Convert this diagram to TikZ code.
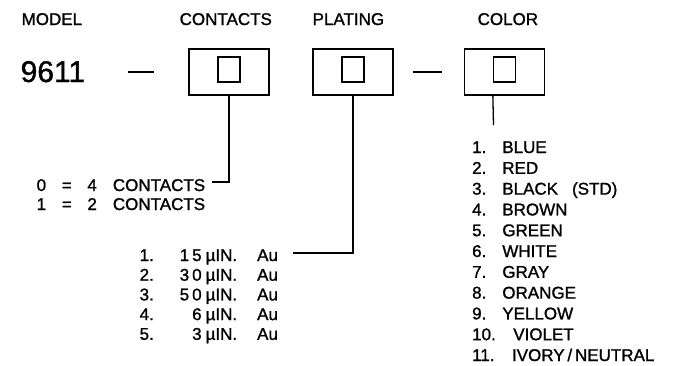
\documentclass[tikz,border=0pt]{standalone}
\usepackage{fontspec}
\setmainfont{Liberation Sans}
\newfontfamily\cadfont{Liberation Sans}[FakeBold=1.2]
\begin{document}
\begin{tikzpicture}[x=1pt,y=-1pt,line width=1.3pt,
  txt/.style={anchor=base west,inner sep=0pt,font=\fontsize{17}{20}\selectfont\cadfont},
  big/.style={anchor=base west,inner sep=0pt,font=\fontsize{30}{34}\selectfont\cadfont},
  outerbox/.style={draw,minimum width=80pt,minimum height=46pt,inner sep=0pt},
  innerbox/.style={draw,minimum width=22pt,minimum height=25pt,inner sep=0pt}]
\useasboundingbox (0,0) rectangle (684,365);
% headings
\node[txt] (hmodel) at (21,25) {MODEL};
\node[txt] (hcont) at (179,25) {CONTACTS};
\node[txt] (hplat) at (312,25) {PLATING};
\node[txt] (hcol) at (477,25) {COLOR};
\node[big] (model) at (20,82) {9611};
% dashes
\coordinate (d1a) at (128,72); \coordinate (d1b) at (154,72);
\coordinate (d2a) at (413,72); \coordinate (d2b) at (442,72);
\draw (d1a) -- (d1b);
\draw (d2a) -- (d2b);
% boxes
\node[outerbox] (cbox) at (229,72) {};
\node[innerbox] (cin) at (229,69.5) {};
\node[outerbox] (pbox) at (353,72) {};
\node[innerbox] (pin) at (353,69.5) {};
\node[outerbox] (kbox) at (504.5,72) {};
\node[innerbox] (kin) at (504.5,69.5) {};
% contacts list
\node[txt] (c0) at (36,191) {0\hspace{15.7pt}=\hspace{15.7pt}4\hspace{16pt}CONTACTS};
\node[txt] (c1) at (36,210) {1\hspace{15.7pt}=\hspace{15.7pt}2\hspace{16pt}CONTACTS};
% plating list
\foreach \i/\n [count=\k from 0] in {1/1\kern3pt 5,2/3\kern3pt 0,3/5\kern3pt 0,4/6,5/3}{
  \node[txt] (p\i) at (139,261+19.7*\k) {\rlap{\i.}\makebox[62pt][r]{\n}\hspace{4pt}µIN.\hspace{20pt}Au};
}
% color list
\foreach \i/\c [count=\k from 0] in {1/BLUE,2/RED,3/BLACK\hspace{14pt}(STD),4/BROWN,5/GREEN,6/WHITE,7/GRAY,8/ORANGE,9/YELLOW}{
  \node[txt] (k\i) at (471.5,153+20.8*\k) {\i.\hspace{16pt}\c};
}
\node[txt] (k10) at (471.5,153+20.8*9) {10.\hspace{17.5pt}VIOLET};
\node[txt] (k11) at (471.5,153+20.8*10) {11.\hspace{17.5pt}IVORY\,/\,NEUTRAL};
% connectors
\coordinate (cend) at (212,182);
\coordinate (pend) at (293,253);
\coordinate (kend) at (493.5,125);
\draw (cbox.south) |- (cend);
\draw (pbox.south) |- (pend);
\draw (kbox.south -| kin.west) -- (kend);
\end{tikzpicture}
\end{document}
